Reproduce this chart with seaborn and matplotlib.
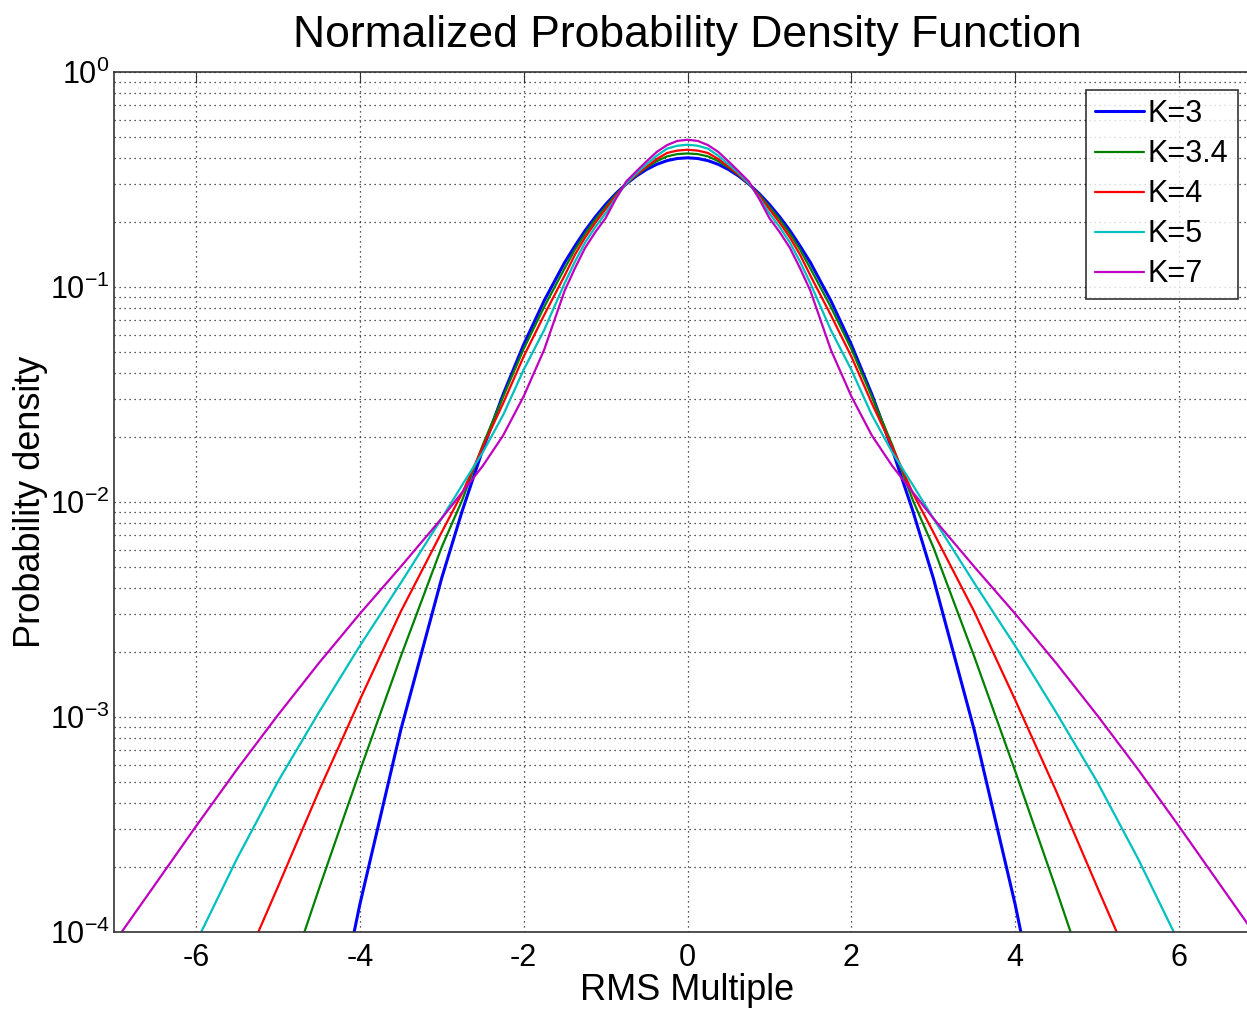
import pandas as pd
import seaborn as sns
import matplotlib.pyplot as plt

# (right half, the curves are symmetric about 0)
x_half = [0, 0.125, 0.25, 0.375, 0.5, 0.625, 0.75, 0.875, 1, 1.125, 1.25,
          1.375, 1.5, 1.75, 2, 2.25, 2.5, 2.75, 3, 3.5, 4, 4.5, 5, 5.5, 6,
          6.5, 7]
k3 = [0.399, 0.396, 0.387, 0.372, 0.352, 0.328, 0.301, 0.272, 0.242, 0.212,
      0.183, 0.155, 0.130, 0.0863, 0.054, 0.0317, 0.0175, 0.00909, 0.00443,
      8.7e-4, 1.34e-4, 1.6e-5]
k34 = [0.418, 0.415, 0.405, 0.385, 0.359, 0.331, 0.301, 0.269, 0.236, 0.206,
       0.177, 0.149, 0.122, 0.0807, 0.0515, 0.0309, 0.0184, 0.0102, 0.00617,
       0.00191, 5.6e-4, 1.58e-4, 4.3e-5]
k4 = [0.435, 0.431, 0.42, 0.394, 0.363, 0.333, 0.302, 0.265, 0.23, 0.199,
      0.17, 0.141, 0.113, 0.074, 0.0475, 0.0288, 0.018, 0.011, 0.00724,
      0.00309, 0.0012, 4.52e-4, 1.62e-4, 5.9e-5]
k5 = [0.459, 0.454, 0.44, 0.408, 0.372, 0.338, 0.303, 0.26, 0.22, 0.19,
      0.161, 0.131, 0.104, 0.063, 0.0412, 0.0254, 0.017, 0.012, 0.0084,
      0.0042, 0.00214, 0.00105, 5.0e-4, 2.19e-4, 8.9e-5, 3.5e-5]
k7 = [0.484, 0.478, 0.457, 0.425, 0.384, 0.345, 0.309, 0.257, 0.209, 0.18,
      0.152, 0.122, 0.096, 0.051, 0.031, 0.0204, 0.0147, 0.0111, 0.0084,
      0.0050, 0.00302, 0.00178, 0.00102, 5.7e-4, 3.1e-4, 1.66e-4, 8.9e-5]

labels = ["K=3", "K=3.4", "K=4", "K=5", "K=7"]
series = [k3, k34, k4, k5, k7]
colors = ["#0000ff", "#008000", "#ff0000", "#00bfbf", "#bf00bf"]
widths = [2.2, 1.6, 1.6, 1.6, 1.6]


def mirror(xs, ys):
    n = len(ys)
    xx = [-v for v in reversed(xs[1:n])] + list(xs[:n])
    yy = list(reversed(ys[1:])) + list(ys)
    return xx, yy


rows = []
for lab, ys in zip(labels, series):
    xx, yy = mirror(x_half, ys)
    rows.append(pd.DataFrame({"x": xx, "y": yy, "K": lab}))
df = pd.concat(rows, ignore_index=True)

sns.set_style("white")
plt.rcParams["font.family"] = ["Liberation Sans", "DejaVu Sans"]
plt.rcParams["axes.unicode_minus"] = False
for key in ["text.color", "axes.labelcolor", "xtick.color", "ytick.color"]:
    plt.rcParams[key] = "black"

W, H = 1247, 1009
fig = plt.figure(figsize=(W / 100, H / 100), dpi=100)
left, right, top, bottom = 114, 1261, 72, 932
ax = fig.add_axes([left / W, 1 - bottom / H, (right - left) / W, (bottom - top) / H])

for lab, col, lw in zip(labels, colors, widths):
    sns.lineplot(data=df[df["K"] == lab], x="x", y="y", color=col, lw=lw,
                 sort=False, estimator=None, ax=ax, label=lab)

ax.set_yscale("log")
ax.set_xlim(-7, 7)
ax.set_ylim(1e-4, 1)
ax.set_xticks([-6, -4, -2, 0, 2, 4, 6])

grid_kw = dict(ls=(0, (1, 3)), color="#222222", lw=0.9)
ax.grid(True, which="major", **grid_kw)
ax.grid(True, which="minor", axis="y", **grid_kw)
ax.tick_params(which="both", direction="in", top=True, right=True,
               labelsize=22, color="#333333")
ax.tick_params(which="major", length=8)
ax.tick_params(which="minor", length=4)
ax.tick_params(axis="x", pad=8)
ax.tick_params(axis="y", pad=3)
for s in ax.spines.values():
    s.set_color("#333333")
    s.set_linewidth(1.2)

ax.set_title("Normalized Probability Density Function", fontsize=32, pad=18)
ax.set_xlabel("RMS Multiple", fontsize=26, labelpad=0)
ax.set_ylabel("Probability density", fontsize=26)
ax.yaxis.set_label_coords((48 - left) / (right - left), 0.5)

leg = ax.legend(loc="upper left", bbox_to_anchor=(1086 / W, 1 - 90 / H),
                bbox_transform=fig.transFigure, fontsize=22, frameon=True,
                fancybox=False, edgecolor="black", borderaxespad=0,
                handlelength=1.6, handletextpad=0.12, labelspacing=0.33,
                borderpad=0.3)
leg.get_frame().set_linewidth(1.2)

fig.savefig("out.png", dpi=100)
